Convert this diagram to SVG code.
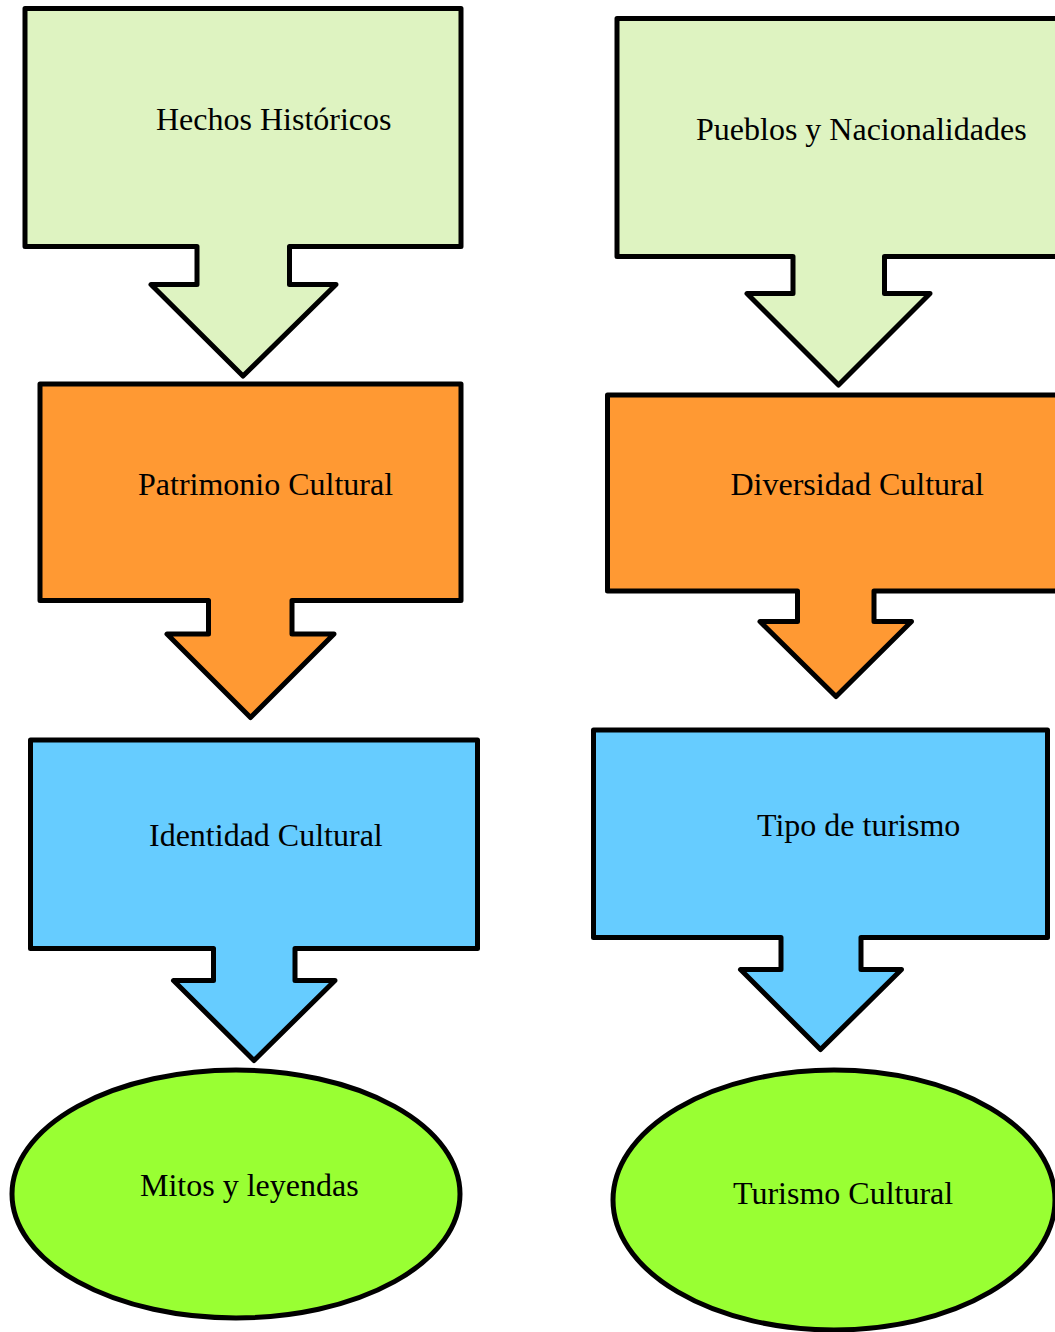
<svg xmlns="http://www.w3.org/2000/svg" width="1055" height="1332" viewBox="0 0 1055 1332">
<style>
.s{stroke:#000;stroke-width:5;stroke-linejoin:round}
.g1{fill:#DEF3C1}
.o{fill:#FF9933}
.b{fill:#66CCFF}
.g2{fill:#99FF33}
text{font-family:"Liberation Serif","Times New Roman",serif;font-size:32px;fill:#000}
</style>
<rect width="1055" height="1332" fill="#fff"/>
<g id="connectors"/>
<g id="hechos">
<path class="s g1" d="M25,8.5 H461 V246.5 H289.5 V284.5 H336 L243,376 L151,284.5 H197 V246.5 H25 Z"/>
<text x="156" y="129.5">Hechos Históricos</text>
</g>
<g id="pueblos">
<path class="s g1" d="M617,18.5 H1062 V256.5 H884.5 V293.5 H930 L838.5,385 L747,293.5 H793 V256.5 H617 Z"/>
<text x="696" y="139.5">Pueblos y Nacionalidades</text>
</g>
<g id="patrimonio">
<path class="s o" d="M40,384 H461 V600.5 H292 V634 H334 L250.5,717.5 L167,634 H208.5 V600.5 H40 Z"/>
<text x="138" y="495">Patrimonio Cultural</text>
</g>
<g id="diversidad">
<path class="s o" d="M607.5,395 H1064 V591 H874 V621.5 H911.5 L836,696.5 L760,621.5 H797.5 V591 H607.5 Z"/>
<text x="730.5" y="495">Diversidad Cultural</text>
</g>
<g id="identidad">
<path class="s b" d="M30.5,740 H477.5 V948.5 H295 V980.5 H335 L254,1060.5 L173.5,980.5 H213.5 V948.5 H30.5 Z"/>
<text x="149" y="846">Identidad Cultural</text>
</g>
<g id="tipo">
<path class="s b" d="M593.5,730 H1047.5 V937.5 H861 V969.5 H901.5 L820.5,1049.5 L740.5,969.5 H781 V937.5 H593.5 Z"/>
<text x="757" y="836">Tipo de turismo</text>
</g>
<g id="mitos">
<ellipse class="s g2" cx="236" cy="1194" rx="224" ry="124"/>
<text x="140" y="1196">Mitos y leyendas</text>
</g>
<g id="turismo">
<ellipse class="s g2" cx="834" cy="1200" rx="221" ry="130"/>
<text x="733" y="1204">Turismo Cultural</text>
</g>
</svg>
